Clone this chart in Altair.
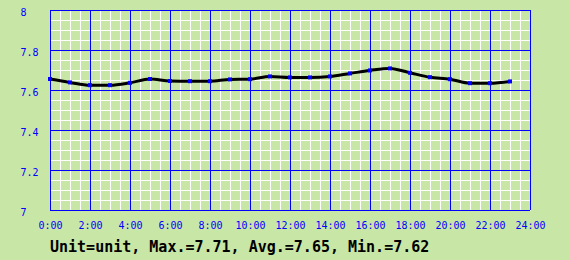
import altair as alt
import pandas as pd

# ---- data ----
hours = list(range(24))
values = [7.655, 7.638, 7.624, 7.624, 7.636, 7.655, 7.645, 7.644, 7.644, 7.653,
          7.654, 7.668, 7.663, 7.663, 7.668, 7.683, 7.698, 7.708, 7.686, 7.664,
          7.654, 7.634, 7.634, 7.643]

major_x = [0, 2, 4, 6, 8, 10, 12, 14, 16, 18, 20, 22, 24]
major_y = [7.0, 7.2, 7.4, 7.6, 7.8, 8.0]
minor_x = [round(i * 0.5, 2) for i in range(49)]
minor_y = [round(7 + i * 0.05, 2) for i in range(21)]

caption = "Unit=unit, Max.=7.71, Avg.=7.65, Min.=7.62"

BG = "#c8e6a6"
BLUE = "#0000ff"
FONT = "DejaVu Sans Mono"

df = pd.DataFrame({"hour": hours, "value": values})
dfx = pd.DataFrame({"h": major_x})
dfy = pd.DataFrame({"v": major_y})

xscale = alt.Scale(domain=[0, 24], nice=False, zero=False)
yscale = alt.Scale(domain=[7, 8], nice=False, zero=False)

xaxis = alt.Axis(
    values=minor_x, grid=True, gridColor="white", gridWidth=1, gridOpacity=1,
    domain=False, ticks=False, tickSize=0,
    labelExpr="datum.value % 2 == 0 ? datum.value + ':00' : ''",
    labelColor=BLUE, labelFont=FONT, labelFontSize=10, labelPadding=10,
    labelOverlap=False, labelFlush=False, orient="bottom", title=None,
)
yaxis = alt.Axis(
    values=minor_y, grid=True, gridColor="white", gridWidth=1, gridOpacity=1,
    domain=False, ticks=False, tickSize=0,
    labelExpr="abs(datum.value * 5 - round(datum.value * 5)) < 1e-6 ? format(datum.value, '~g') : ''",
    labelColor=BLUE, labelFont=FONT, labelFontSize=10, labelPadding=30,
    labelAlign="left", labelBaseline="middle", labelOffset=2,
    labelOverlap=False, labelFlush=False, orient="left", title=None,
)

X = alt.X("hour:Q", scale=xscale, axis=xaxis)
Y = alt.Y("value:Q", scale=yscale, axis=yaxis)

vrules = alt.Chart(dfx).mark_rule(color=BLUE, strokeWidth=1, xOffset=0.5).encode(
    x=alt.X("h:Q", scale=xscale, axis=xaxis)
)
hrules = alt.Chart(dfy).mark_rule(color=BLUE, strokeWidth=1, yOffset=0.5).encode(
    y=alt.Y("v:Q", scale=yscale, axis=yaxis)
)

line = alt.Chart(df).mark_line(color="black", strokeWidth=3, interpolate="monotone").encode(
    x=X, y=Y,
)

points = alt.Chart(df).mark_square(size=16, color=BLUE, opacity=1, filled=True).encode(
    x=X, y=Y,
)

chart = alt.layer(vrules, hrules, line, points).properties(
    width=480, height=200,
    padding={"left": 50, "top": 10, "right": 40, "bottom": 50},
    autosize="none",
    background=BG,
    title=alt.TitleParams(
        text=caption, orient="bottom", anchor="start", frame="group", font=FONT, fontSize=15,
        fontWeight="bold", color="black", offset=10,
    ),
).configure_view(strokeWidth=0, fill=None)

chart.save("out.html", embed_options={"renderer": "svg", "actions": False})
